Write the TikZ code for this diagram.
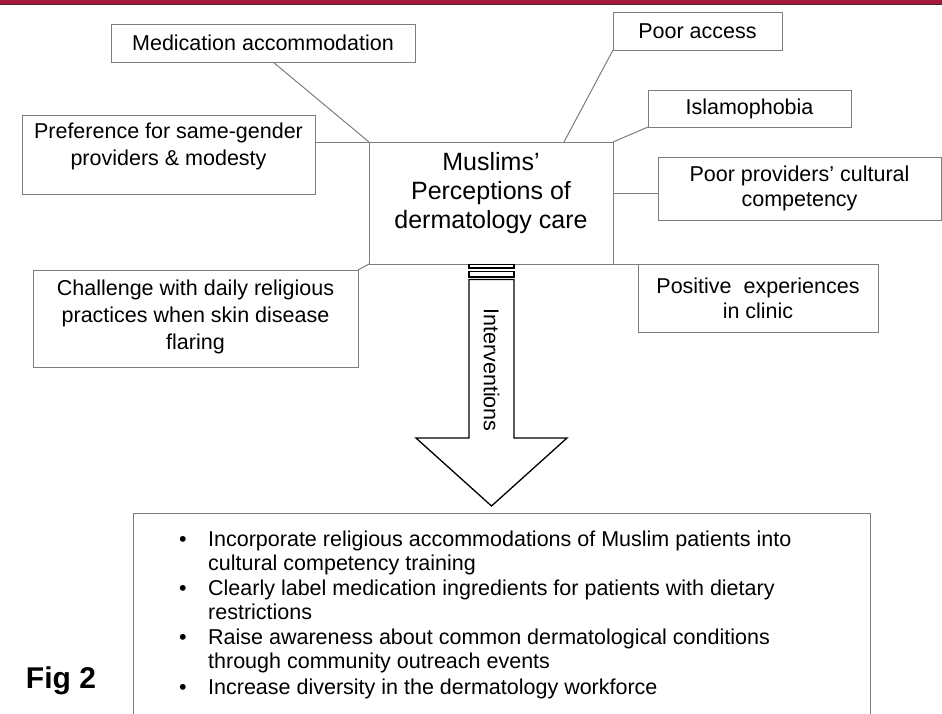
\documentclass[tikz,border=0pt]{standalone}
\usepackage{fontspec}
\setmainfont{Liberation Sans}
\definecolor{barred}{RGB}{166,24,58}
\definecolor{bardark}{RGB}{60,40,45}
\definecolor{boxgray}{RGB}{125,125,125}
\begin{document}
\begin{tikzpicture}[x=1pt,y=-1pt,
  gbox/.style={draw=boxgray, line width=1pt, inner sep=0pt, outer sep=0pt, anchor=north west},
  btxt/.style={font=\fontsize{21.5}{25}\selectfont, align=center, inner sep=0pt},
  btxtw/.style={font=\fontsize{21.5}{27}\selectfont, align=center, inner sep=0pt},
  ctxt/.style={font=\fontsize{25}{29}\selectfont, align=center, inner sep=0pt},
  ltxt/.style={font=\fontsize{21.5}{25}\selectfont, anchor=base west, inner sep=0pt},
  bul/.style={font=\fontsize{21.5}{25}\selectfont, anchor=base, inner sep=0pt},
  conn/.style={draw=boxgray, line width=1pt},
  arr/.style={draw=black, line width=1.3pt, fill=white, line join=miter}]
\useasboundingbox (0,0) rectangle (942,713);
\fill[white] (0,0) rectangle (942,713);
% top bar
\fill[barred] (0,0) rectangle (942,4);
\draw[bardark, line width=1.2pt] (0,4.6) -- (942,4.6);

% boxes
\node[gbox, minimum width=304pt, minimum height=38pt] (med) at (111,24) {};
\node[gbox, minimum width=169pt, minimum height=38pt] (access) at (613,12) {};
\node[gbox, minimum width=203pt, minimum height=37pt] (islam) at (648,90) {};
\node[gbox, minimum width=293pt, minimum height=79pt] (pref) at (22,115) {};
\node[gbox, minimum width=244pt, minimum height=122pt] (central) at (369,142) {};
\node[gbox, minimum width=283pt, minimum height=63pt] (prov) at (658,157) {};
\node[gbox, minimum width=325pt, minimum height=97pt] (chal) at (33,270) {};
\node[gbox, minimum width=240pt, minimum height=68pt] (pos) at (638,264) {};
\node[gbox, minimum width=737pt, minimum height=230pt] (list) at (133,513) {};

% connectors
\draw[conn] ([xshift=10pt]med.south) -- (central.north west);
\draw[conn] (pref.east |- central.north west) -- (central.north west);
\draw[conn] (chal.north east) -- (central.south west);
\draw[conn] (access.south west) -- ([xshift=-49pt]central.north east);
\draw[conn] (islam.south west) -- (central.north east);
\draw[conn] ([yshift=10pt]central.east) -- ([yshift=10pt]central.east -| prov.west);
\draw[conn] (central.south east) -- (pos.north west);

% box texts
\node[btxt] (medt) at (med.center) {Medication accommodation};
\node[btxt] (accesst) at (access.center) {Poor access};
\node[btxt] (islamt) at (islam.center) {Islamophobia};
\node[btxtw] (preft) at ([yshift=8pt]pref.center) {Preference for same-gender\\providers \& modesty};
\node[ctxt] (centralt) at ([yshift=10pt]central.center) {Muslims’\\Perceptions of\\dermatology care};
\node[btxt] (provt) at (prov.center) {Poor providers’ cultural\\competency};
\node[btxtw] (chalt) at ([yshift=2pt]chal.center) {Challenge with daily religious\\practices when skin disease\\flaring};
\node[btxt] (post) at (pos.center) {Positive\ \ experiences\\in clinic};

% block arrow
\draw[arr] (469,264.5) rectangle (514,268);
\draw[arr] (469,271.5) rectangle (514,277);
\draw[arr] (469,279.5) -- (469,438) -- (416,438) -- (491.5,506) -- (567,438) -- (514,438) -- (514,279.5) -- cycle;
\node[btxt, rotate=-90] (interv) at (491.5,370) {Interventions};

% list
\node[bul] (b1) at (183,546) {•};
\node[ltxt] (l1a) at (208,546) {Incorporate religious accommodations of Muslim patients into};
\node[ltxt] (l1b) at (208,570.5) {cultural competency training};
\node[bul] (b2) at (183,595) {•};
\node[ltxt] (l2a) at (208,595) {Clearly label medication ingredients for patients with dietary};
\node[ltxt] (l2b) at (208,619.5) {restrictions};
\node[bul] (b3) at (183,644) {•};
\node[ltxt] (l3a) at (208,644) {Raise awareness about common dermatological conditions};
\node[ltxt] (l3b) at (208,668.5) {through community outreach events};
\node[bul] (b4) at (183,694) {•};
\node[ltxt] (l4a) at (208,694) {Increase diversity in the dermatology workforce};

% caption
\node[font=\fontsize{30}{36}\selectfont\bfseries, inner sep=0pt] (fig) at (61,681) {Fig 2};
\end{tikzpicture}
\end{document}
